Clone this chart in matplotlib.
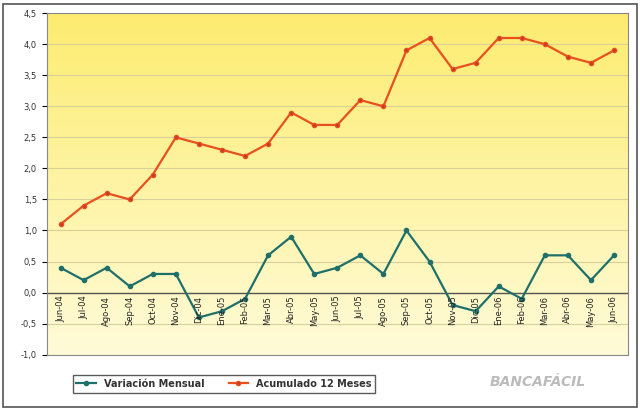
import matplotlib.pyplot as plt
import numpy as np
from matplotlib.colors import LinearSegmentedColormap

meses = ['Jun-04', 'Jul-04', 'Ago-04', 'Sep-04', 'Oct-04', 'Nov-04', 'Dic-04', 'Ene-05',
         'Feb-05', 'Mar-05', 'Abr-05', 'May-05', 'Jun-05', 'Jul-05', 'Ago-05', 'Sep-05',
         'Oct-05', 'Nov-05', 'Dic-05', 'Ene-06', 'Feb-06', 'Mar-06', 'Abr-06', 'May-06', 'Jun-06']
variacion = [0.4, 0.2, 0.4, 0.1, 0.3, 0.3, -0.4, -0.3, -0.1, 0.6, 0.9, 0.3, 0.4, 0.6, 0.3,
             1.0, 0.5, -0.2, -0.3, 0.1, -0.1, 0.6, 0.6, 0.2, 0.6]
acumulado = [1.1, 1.4, 1.6, 1.5, 1.9, 2.5, 2.4, 2.3, 2.2, 2.4, 2.9, 2.7, 2.7, 3.1, 3.0,
             3.9, 4.1, 3.6, 3.7, 4.1, 4.1, 4.0, 3.8, 3.7, 3.9]

fig = plt.figure(figsize=(6.4, 4.11), dpi=100)
fig.patch.set_facecolor('white')
ax = fig.add_axes([0.073, 0.137, 0.908, 0.831])
x = np.arange(len(meses))

# fondo degradado amarillo
cmap = LinearSegmentedColormap.from_list('yel', ['#fffbd8', '#fdec70'])
ax.imshow(np.linspace(0, 1, 100).reshape(-1, 1), cmap=cmap, aspect='auto',
          extent=[-0.6, len(meses) - 0.4, -1.0, 4.5], origin='lower', zorder=0)

for yv in np.arange(-1.0, 4.6, 0.5):
    ax.axhline(yv, color='#d8cf9a', lw=0.8, zorder=1)
ax.axhline(0, color='#555555', lw=1.0, zorder=2)

ax.plot(x, variacion, color='#1f6f6a', lw=1.6, marker='o', ms=3, zorder=3,
        label='Variación Mensual')
ax.plot(x, acumulado, color='#e8501e', lw=1.6, marker='o', ms=3, mfc='#c0392b',
        zorder=3, label='Acumulado 12 Meses')

ax.set_xlim(-0.6, len(meses) - 0.4)
ax.set_ylim(-1.0, 4.5)
ax.set_yticks(np.arange(-1.0, 4.6, 0.5))
ax.set_yticklabels([f'{v:.1f}'.replace('.', ',') for v in np.arange(-1.0, 4.6, 0.5)],
                   fontsize=6, color='#333333')
ax.set_xticks([])
for i, m in enumerate(meses):
    ax.text(i, -0.05, m, rotation=90, ha='center', va='top', fontsize=6,
            color='#222222', zorder=4)
for s in ax.spines.values():
    s.set_color('#888888')

leg = ax.legend(loc='upper left', bbox_to_anchor=(0.036, -0.045), ncol=2,
                frameon=True, edgecolor='#333333', fancybox=False, borderpad=0.4,
                prop={'size': 7, 'weight': 'bold'}, columnspacing=2.5)
for t in leg.get_texts():
    t.set_color('#333333')
fig.text(0.84, 0.06, 'BANCAFÁCIL', fontsize=10, color='#bbbbbb', style='italic',
         ha='center', weight='bold')

fig.add_artist(plt.Rectangle((0.005, 0.01), 0.99, 0.98, transform=fig.transFigure,
                             fill=False, edgecolor='#555555', lw=1.2))
plt.savefig('out.png', dpi=100)
